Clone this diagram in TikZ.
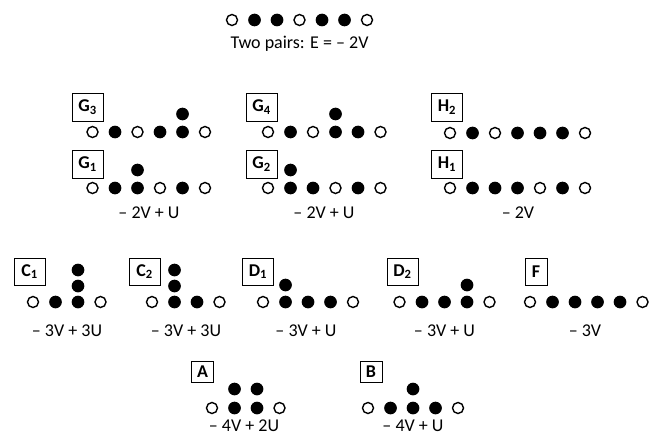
\documentclass[tikz,border=0pt]{standalone}
\usepackage{fontspec}
\setmainfont{Carlito}
\newcommand\dotrow[4]{%
  \foreach \t [count=\i from 0] in {#4} {\node[\t] (#1-\i) at ({#2+\i*22.5}, #3) {};}}
\tikzset{
  ob/.style={circle, draw=black, line width=1.4pt, minimum size=11pt, inner sep=0pt},
  fb/.style={circle, fill=black, minimum size=12.7pt, inner sep=0pt},
  lbl/.style={draw=black, line width=0.9pt, inner sep=0pt, font=\bfseries\fontsize{18}{18}\selectfont},
  sublbl/.style={lbl, minimum width=31pt, minimum height=28pt},
  plainlbl/.style={lbl, minimum width=22pt, minimum height=21pt},
  txt/.style={font=\fontsize{18}{20}\selectfont, inner sep=0pt}
}
\begin{document}
\begin{tikzpicture}[x=1pt,y=-1pt]
\useasboundingbox (0,0) rectangle (660,441);
\fill[white] (0,0) rectangle (660,441);
% top
\dotrow{top}{232}{20}{ob,fb,fb,ob,fb,fb,ob}
\node[txt] (toptxt) at (299.5,44) {Two pairs: E = – 2V};
% G3 / G1
\node[sublbl] (g3) at (87.5,107) {G\textsubscript{3}};
\dotrow{g3r}{92.5}{132}{ob,fb,ob,fb,fb,ob}
\node[fb] (g3x) at (182.5,114) {};
\node[sublbl] (g1) at (87.5,164) {G\textsubscript{1}};
\dotrow{g1r}{92.5}{188}{ob,fb,fb,ob,fb,ob}
\node[fb] (g1x) at (137.5,170) {};
\node[txt] (g1t) at (149,213) {– 2V + U};
% G4 / G2
\node[sublbl] (g4) at (261.5,107) {G\textsubscript{4}};
\dotrow{g4r}{268}{132}{ob,fb,ob,fb,fb,ob}
\node[fb] (g4x) at (335.5,114) {};
\node[sublbl] (g2) at (261.5,164) {G\textsubscript{2}};
\dotrow{g2r}{268}{188}{ob,fb,fb,ob,fb,ob}
\node[fb] (g2x) at (290.5,170) {};
\node[txt] (g2t) at (324,213) {– 2V + U};
% H2 / H1
\node[sublbl] (h2) at (447,107) {H\textsubscript{2}};
\dotrow{h2r}{450}{133}{ob,fb,ob,fb,fb,fb,ob}
\node[sublbl] (h1) at (447,164) {H\textsubscript{1}};
\dotrow{h1r}{450}{188}{ob,fb,fb,fb,ob,fb,ob}
\node[txt] (ht) at (518,213) {– 2V};
% C1
\node[sublbl, minimum height=27pt] (c1) at (29.5,271.5) {C\textsubscript{1}};
\dotrow{c1r}{33}{302}{ob,fb,fb,ob}
\node[fb] (c1a) at (78,286) {};
\node[fb] (c1b) at (78,270) {};
\node[txt] (c1t) at (67,331) {– 3V + 3U};
% C2
\node[sublbl, minimum height=27pt] (c2) at (144.5,271.5) {C\textsubscript{2}};
\dotrow{c2r}{152}{302}{ob,fb,fb,ob}
\node[fb] (c2a) at (174.5,286) {};
\node[fb] (c2b) at (174.5,270) {};
\node[txt] (c2t) at (186,331) {– 3V + 3U};
% D1
\node[sublbl, minimum height=27pt] (d1) at (258,271.5) {D\textsubscript{1}};
\dotrow{d1r}{263}{302}{ob,fb,fb,fb,ob}
\node[fb] (d1x) at (285.5,285) {};
\node[txt] (d1t) at (306,331) {– 3V + U};
% D2
\node[sublbl, minimum height=27pt] (d2) at (402.5,271.5) {D\textsubscript{2}};
\dotrow{d2r}{399.5}{302}{ob,fb,fb,fb,ob}
\node[fb] (d2x) at (467,285) {};
\node[txt] (d2t) at (444.5,331) {– 3V + U};
% F
\node[plainlbl, minimum height=27pt] (f) at (536,271.5) {F};
\dotrow{fr}{530}{302}{ob,fb,fb,fb,fb,ob}
\node[txt] (ft) at (585,331) {– 3V};
% A
\node[plainlbl] (a) at (202.5,371.5) {A};
\dotrow{ar}{212}{408}{ob,fb,fb,ob}
\node[fb] (ax1) at (234.5,389) {};
\node[fb] (ax2) at (257,389) {};
\node[txt] (at) at (244,426) {– 4V + 2U};
% B
\node[plainlbl] (b) at (371,371.5) {B};
\dotrow{br}{368}{408}{ob,fb,fb,fb,ob}
\node[fb] (bx) at (413,389) {};
\node[txt] (bt) at (413,426) {– 4V + U};
\end{tikzpicture}
\end{document}
